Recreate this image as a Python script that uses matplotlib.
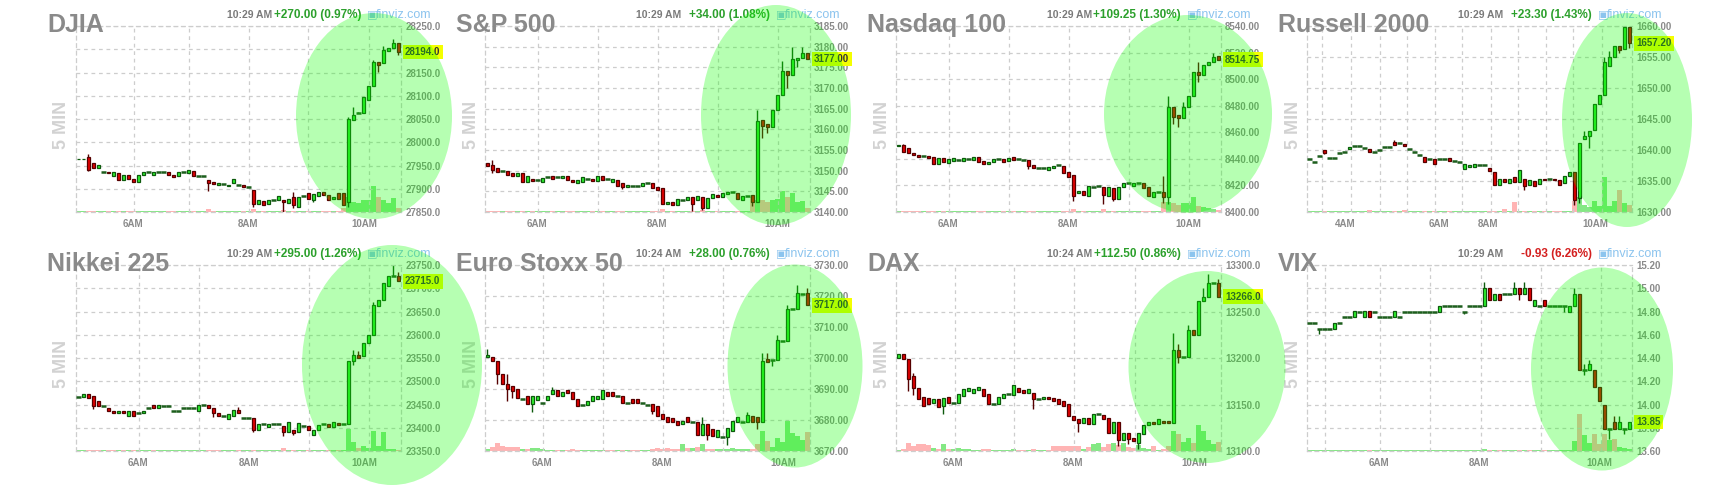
import numpy as np
import matplotlib
matplotlib.use("Agg")
import matplotlib.pyplot as plt
import matplotlib.transforms as mtransforms
from matplotlib.patches import Ellipse

plt.rcParams["font.family"] = ["Liberation Sans", "DejaVu Sans"]

W, H = 1720, 486

# ---------------- data ----------------
names = ["DJIA", "S&P 500", "Nasdaq 100", "Russell 2000",
         "Nikkei 225", "Euro Stoxx 50", "DAX", "VIX"]
times = ["10:29 AM", "10:29 AM", "10:29 AM", "10:29 AM",
         "10:29 AM", "10:24 AM", "10:24 AM", "10:29 AM"]
changes = ["+270.00 (0.97%)", "+34.00 (1.08%)", "+109.25 (1.30%)", "+23.30 (1.43%)",
           "+295.00 (1.26%)", "+28.00 (0.76%)", "+112.50 (0.86%)", "-0.93 (6.26%)"]
last_labels = ["28194.0", "3177.00", "8514.75", "1657.20",
               "23715.0", "3717.00", "13266.0", "13.85"]

djia_open = [27963, 27964, 27969, 27955, 27944, 27937, 27937, 27928, 27933, 27919,
             27930, 27922, 27915, 27930, 27937, 27930, 27937, 27937, 27935, 27930,
             27927, 27936, 27933, 27939, 27928, 27928, 27919, 27914, 27908, 27910,
             27905, 27913, 27908, 27908, 27904, 27897, 27867, 27874, 27867, 27876,
             27876, 27876, 27869, 27883, 27861, 27884, 27890, 27876, 27884, 27894,
             27887, 27878, 27890, 27890, 27872, 28048, 28062, 28062, 28091, 28120,
             28173, 28170, 28197, 28202, 28213]
djia_close = [27964, 27965, 27940, 27945, 27951, 27937, 27933, 27936, 27919, 27930,
              27922, 27915, 27930, 27937, 27937, 27937, 27937, 27937, 27930, 27926,
              27937, 27936, 27940, 27927, 27928, 27928, 27912, 27910, 27912, 27910,
              27908, 27921, 27908, 27904, 27904, 27867, 27876, 27866, 27876, 27876,
              27885, 27872, 27879, 27865, 27883, 27884, 27879, 27888, 27892, 27887,
              27876, 27883, 27879, 27865, 28051, 28059, 28062, 28098, 28120, 28173,
              28166, 28198, 28202, 28213, 28194]
djia_hi = {2: 27975, 43: 27894, 54: 28055, 55: 28076, 56: 28066, 59: 28177, 61: 28206, 63: 28223}
djia_lo = {2: 27939, 26: 27896, 35: 27860, 41: 27851, 43: 27858, 47: 27872, 54: 27861, 60: 28152, 64: 28188}
djia_vol = [0.6, 0.6, 0.6, 0.6, 0.6, 0.6, 0.6, 0.6, 0.6, 0.6,
            0.6, 0.6, 0.6, 0.6, 0.6, 0.6, 0.6, 0.6, 0.6, 0.6,
            0.6, 0.6, 0.6, 0.6, 0.6, 0.6, 1.5, 0.6, 0.6, 0.6,
            0.6, 0.6, 0.6, 0.6, 0.6, 1.5, 0.6, 0.6, 0.6, 0.6,
            0.6, 1.2, 0.6, 0.6, 0.6, 0.6, 0.6, 0.6, 0.6, 0.6,
            0.6, 0.6, 0.6, 2.0, 8.0, 5.5, 4.7, 6.5, 6.5, 14.0,
            8.0, 6.5, 4.7, 7.3, 2.0]
djia_ticks = [27850, 27900, 27950, 28000, 28050, 28100, 28150, 28200, 28250]

spx_open = [3151.8, 3151.4, 3150.6, 3149.8, 3149.8, 3149.5, 3148.7, 3149.4, 3147.3, 3148.1,
            3147.7, 3147.3, 3148.5, 3148.7, 3148.5, 3148.3, 3148.7, 3147.7, 3146.9, 3147.3,
            3148.1, 3148.1, 3147.6, 3148.7, 3148.0, 3147.3, 3147.7, 3146.9, 3146.1, 3146.4,
            3146.3, 3146.3, 3147.1, 3147.1, 3146.0, 3145.7, 3141.9, 3142.5, 3141.7, 3142.9,
            3142.9, 3143.7, 3142.9, 3143.7, 3140.9, 3143.3, 3144.1, 3143.7, 3144.4, 3144.9,
            3144.7, 3142.9, 3143.9, 3144.1, 3142.5, 3162.3, 3161.3, 3160.6, 3164.7, 3168.3,
            3174.0, 3173.1, 3176.8, 3177.2, 3178.4]
spx_close = [3151.1, 3150.2, 3149.6, 3149.8, 3149.0, 3148.7, 3149.5, 3147.3, 3148.7, 3147.6,
             3147.7, 3148.3, 3148.5, 3148.1, 3148.5, 3148.8, 3147.7, 3147.2, 3147.7, 3148.4,
             3148.1, 3147.6, 3148.7, 3147.7, 3148.0, 3148.1, 3146.3, 3146.1, 3146.5, 3146.4,
             3146.3, 3147.1, 3147.1, 3145.7, 3145.3, 3141.9, 3142.5, 3141.7, 3143.1, 3142.9,
             3143.7, 3141.9, 3143.9, 3140.9, 3143.3, 3144.3, 3143.7, 3144.5, 3144.9, 3144.9,
             3143.1, 3143.9, 3143.9, 3142.5, 3161.9, 3160.8, 3160.6, 3164.7, 3168.3, 3174.0,
             3173.1, 3176.9, 3177.2, 3178.4, 3177.0]
spx_hi = {1: 3152.6, 54: 3164.7, 59: 3176.5, 61: 3180.0, 63: 3180.0}
spx_lo = {1: 3149.4, 27: 3145.5, 41: 3140.2, 43: 3140.5, 53: 3141.5, 55: 3158.0, 56: 3159.0, 60: 3170.0, 62: 3175.0}
spx_vol = [0.6, 0.6, 0.6, 0.6, 0.6, 0.6, 0.6, 0.6, 0.6, 0.6,
           0.6, 0.6, 0.6, 0.6, 0.6, 0.6, 0.6, 0.6, 0.6, 0.6,
           0.6, 0.6, 0.6, 0.6, 0.6, 0.6, 0.6, 0.6, 0.6, 0.6,
           0.6, 0.6, 0.6, 0.6, 0.6, 1.5, 0.6, 0.6, 0.6, 0.6,
           0.6, 0.6, 0.6, 1.2, 0.6, 0.6, 0.6, 0.6, 0.6, 0.6,
           0.6, 0.6, 0.6, 8.0, 6.5, 6.5, 5.5, 6.5, 7.0, 11.3,
           8.2, 10.4, 5.5, 6.0, 2.0]
spx_ticks = [3140, 3145, 3150, 3155, 3160, 3165, 3170, 3175, 3180, 3185]

ndx_open = [8449.9, 8450.4, 8447.9, 8444.7, 8442.9, 8442.2, 8442.2, 8441.7, 8436.1, 8440.4,
            8437.1, 8438.4, 8439.1, 8438.4, 8439.6, 8439.1, 8441.2, 8438.4, 8436.1, 8437.9,
            8439.6, 8439.6, 8438.4, 8441.7, 8439.6, 8439.1, 8439.1, 8435.4, 8433.4, 8433.4,
            8431.6, 8432.9, 8435.4, 8434.6, 8430.4, 8427.9, 8414.1, 8415.8, 8412.0, 8419.1,
            8419.6, 8419.1, 8412.0, 8417.8, 8409.5, 8419.1, 8421.6, 8419.6, 8421.6, 8421.6,
            8418.6, 8411.5, 8415.3, 8415.3, 8411.0, 8479.3, 8473.0, 8470.5, 8479.3, 8487.3,
            8505.6, 8503.1, 8510.6, 8513.2, 8517.4]
ndx_close = [8450.4, 8445.4, 8444.7, 8442.9, 8441.7, 8442.2, 8440.4, 8436.1, 8440.4, 8437.9,
             8439.6, 8440.9, 8439.1, 8440.4, 8439.6, 8441.2, 8437.4, 8436.1, 8437.9, 8439.6,
             8439.6, 8437.4, 8440.9, 8439.1, 8439.6, 8439.1, 8434.6, 8432.9, 8433.4, 8433.4,
             8434.1, 8434.6, 8435.4, 8429.6, 8426.6, 8412.0, 8416.1, 8412.8, 8419.6, 8419.1,
             8419.6, 8412.8, 8418.6, 8409.5, 8419.1, 8422.1, 8421.6, 8421.6, 8421.6, 8417.8,
             8412.0, 8415.3, 8415.3, 8411.0, 8479.3, 8471.3, 8470.5, 8479.3, 8487.3, 8505.6,
             8503.1, 8510.6, 8513.2, 8516.9, 8514.75]
ndx_hi = {1: 8451.5, 53: 8427.0, 54: 8487.0, 57: 8483.0, 60: 8513.0, 63: 8520.0}
ndx_lo = {26: 8432.0, 35: 8408.0, 41: 8406.0, 43: 8408.0, 53: 8407.0, 54: 8406.0, 55: 8466.0, 56: 8464.0, 60: 8498.0}
ndx_vol = [0.5, 0.5, 0.5, 0.5, 0.5, 0.5, 0.5, 0.5, 0.5, 0.5,
           0.5, 0.5, 0.5, 0.5, 0.5, 0.5, 0.5, 0.5, 0.5, 0.5,
           0.5, 0.5, 0.5, 0.5, 0.5, 0.5, 0.5, 0.5, 0.5, 0.5,
           0.5, 0.5, 0.5, 0.5, 0.5, 1.5, 0.5, 0.5, 0.5, 0.5,
           0.5, 1.5, 0.5, 0.5, 0.5, 0.5, 0.5, 0.5, 0.5, 0.5,
           0.5, 0.5, 0.5, 5.5, 5.5, 4.7, 3.8, 5.0, 4.7, 8.2,
           3.2, 2.5, 2.0, 1.5, 1.0]
ndx_ticks = [8400, 8420, 8440, 8460, 8480, 8500, 8520, 8540]

rut_open = [1638.5, 1638.0, 1639.1, 1640.0, 1638.7, 1638.7, 1639.5, 1639.7, 1640.1, 1640.6,
            1640.6, 1640.4, 1640.2, 1639.7, 1640.0, 1640.5, 1640.5, 1641.3, 1641.2, 1640.9,
            1640.2, 1639.7, 1639.2, 1638.9, 1638.5, 1638.6, 1638.5, 1638.5, 1638.7, 1638.2,
            1638.0, 1637.0, 1637.2, 1637.2, 1637.6, 1637.6, 1637.1, 1636.5, 1634.4, 1635.3,
            1634.6, 1635.6, 1634.9, 1635.3, 1634.4, 1635.0, 1634.5, 1635.4, 1635.3, 1635.4,
            1635.1, 1634.6, 1635.8, 1636.4, 1632.3, 1641.7, 1642.2, 1643.2, 1647.4, 1648.8,
            1653.6, 1655.0, 1656.7, 1656.3, 1659.8]
rut_close = [1638.5, 1638.0, 1639.1, 1639.5, 1638.7, 1638.7, 1639.5, 1639.7, 1640.5, 1640.6,
             1640.6, 1640.4, 1639.7, 1639.7, 1640.0, 1640.5, 1640.5, 1640.8, 1641.2, 1640.6,
             1640.2, 1639.7, 1639.2, 1638.0, 1638.5, 1637.8, 1638.5, 1638.5, 1638.3, 1638.2,
             1638.0, 1637.7, 1637.5, 1637.7, 1637.6, 1637.6, 1636.6, 1634.4, 1635.3, 1634.8,
             1635.3, 1634.9, 1636.8, 1634.2, 1635.2, 1634.2, 1635.4, 1635.1, 1635.3, 1635.2,
             1634.4, 1635.8, 1636.4, 1632.0, 1641.2, 1642.3, 1643.1, 1647.5, 1648.9, 1654.2,
             1655.0, 1656.7, 1656.2, 1659.8, 1657.2]
rut_hi = {17: 1641.6, 55: 1643.0, 59: 1655.0, 60: 1656.0}
rut_lo = {3: 1639.3, 43: 1633.5, 53: 1631.2, 54: 1631.4, 56: 1640.3, 62: 1655.7, 64: 1656.5}
rut_vol = [0.3, 0.3, 0.3, 0.3, 0.3, 0.3, 0.3, 0.3, 0.3, 0.3,
           0.3, 0.3, 1.0, 0.3, 0.3, 0.3, 0.3, 0.3, 0.3, 1.0,
           0.3, 0.3, 0.3, 0.3, 0.3, 0.3, 0.3, 0.3, 0.3, 0.3,
           0.3, 0.3, 0.3, 0.3, 0.3, 0.3, 0.3, 0.3, 0.3, 1.5,
           0.3, 5.4, 0.3, 0.3, 0.3, 0.3, 0.3, 0.3, 0.3, 0.3,
           0.3, 0.3, 0.3, 6.0, 8.0, 4.0, 2.5, 6.0, 3.0, 19.0,
           3.0, 6.0, 12.0, 5.0, 4.0]
rut_ticks = [1630, 1635, 1640, 1645, 1650, 1655, 1660]

nik_open = [23467, 23467, 23472, 23468, 23457, 23447, 23443, 23436, 23431, 23436,
            23425, 23437, 23431, 23431, 23443, 23448, 23442, 23447, 23447, 23436,
            23436, 23443, 23443, 23443, 23436, 23448, 23448, 23443, 23431, 23425,
            23419, 23425, 23439, 23421, 23421, 23421, 23396, 23407, 23401, 23407,
            23407, 23404, 23391, 23396, 23391, 23404, 23404, 23384, 23396, 23407,
            23407, 23401, 23411, 23407, 23407, 23543, 23557, 23554, 23583, 23600,
            23661, 23674, 23704, 23726, 23726]
nik_close = [23467, 23472, 23464, 23447, 23447, 23447, 23436, 23431, 23436, 23431,
             23436, 23425, 23431, 23437, 23443, 23442, 23448, 23447, 23447, 23436,
             23436, 23443, 23443, 23443, 23448, 23448, 23442, 23431, 23425, 23425,
             23429, 23439, 23431, 23421, 23421, 23396, 23407, 23407, 23407, 23407,
             23407, 23391, 23412, 23389, 23411, 23404, 23396, 23396, 23405, 23407,
             23401, 23412, 23405, 23407, 23543, 23557, 23550, 23583, 23600, 23665,
             23674, 23711, 23726, 23726, 23715]
nik_hi = {32: 23445, 55: 23568, 56: 23565, 59: 23670, 63: 23750, 64: 23735}
nik_lo = {3: 23440, 27: 23424, 35: 23390, 41: 23382, 43: 23385, 55: 23535}
nik_vol = [0.3, 0.3, 0.3, 0.3, 0.3, 0.3, 0.3, 0.3, 0.3, 0.3,
           0.3, 0.3, 0.3, 0.3, 0.3, 0.3, 0.3, 0.3, 0.3, 0.3,
           0.3, 0.3, 0.3, 0.3, 0.3, 0.3, 0.3, 0.3, 0.3, 0.3,
           0.3, 0.3, 0.3, 0.3, 0.3, 0.3, 0.3, 0.3, 0.3, 0.3,
           0.3, 1.8, 0.3, 0.3, 0.3, 0.3, 0.3, 0.3, 0.3, 0.3,
           0.3, 0.3, 0.3, 0.3, 12.0, 5.0, 1.5, 2.7, 1.5, 10.7,
           2.7, 10.0, 1.0, 1.3, 0.5]
nik_ticks = [23350, 23400, 23450, 23500, 23550, 23600, 23650, 23700, 23750]

sx5e_open = [3700.3, 3700.2, 3699.1, 3694.8, 3691.5, 3691.0, 3689.9, 3686.9, 3687.8, 3685.1,
             3686.5, 3685.6, 3686.5, 3688.3, 3689.7, 3687.6, 3689.7, 3688.9, 3686.9, 3684.8,
             3684.8, 3686.2, 3686.7, 3686.7, 3688.9, 3688.9, 3687.8, 3687.6, 3685.6, 3686.9,
             3686.7, 3685.4, 3684.8, 3685.1, 3684.5, 3681.8, 3681.1, 3680.8, 3679.7, 3678.6,
             3681.1, 3679.2, 3679.2, 3675.1, 3678.6, 3677.0, 3674.6, 3674.6, 3674.6, 3676.5,
             3679.4, 3679.4, 3679.4, 3681.3, 3681.1, 3679.2, 3699.8, 3699.4, 3699.4, 3705.5,
             3705.5, 3715.8, 3715.8, 3720.6, 3721.0]
sx5e_close = [3700.9, 3698.9, 3694.8, 3691.5, 3689.9, 3689.4, 3687.2, 3686.9, 3685.1, 3687.8,
              3687.8, 3685.6, 3687.6, 3689.7, 3687.6, 3688.9, 3688.6, 3686.7, 3684.5, 3684.8,
              3686.2, 3687.6, 3687.6, 3689.7, 3687.6, 3687.6, 3687.8, 3685.4, 3685.6, 3685.4,
              3685.4, 3685.4, 3684.8, 3682.9, 3681.3, 3680.4, 3679.2, 3679.2, 3678.3, 3679.7,
              3679.2, 3679.2, 3675.1, 3678.6, 3675.1, 3674.8, 3676.8, 3674.6, 3677.5, 3679.7,
              3681.1, 3679.4, 3681.5, 3679.4, 3679.2, 3699.1, 3698.8, 3699.4, 3705.9, 3705.5,
              3715.8, 3715.8, 3721.0, 3720.6, 3717.0]
sx5e_hi = {0: 3703.0, 4: 3695.0, 13: 3690.5, 43: 3681.0, 52: 3682.5, 55: 3701.5, 56: 3701.5,
           58: 3707.5, 60: 3717.0, 62: 3723.5, 64: 3722.5}
sx5e_lo = {2: 3691.5, 4: 3686.0, 5: 3687.0, 9: 3682.7, 33: 3682.0, 44: 3673.5, 48: 3672.0, 54: 3677.0, 57: 3697.5}
sx5e_vol = [1.0, 2.0, 4.5, 2.7, 2.3, 2.3, 2.3, 1.3, 1.3, 1.8,
            1.8, 1.0, 0.8, 0.8, 0.8, 0.5, 0.8, 1.0, 0.8, 0.5,
            0.5, 0.5, 0.5, 0.8, 0.5, 0.5, 0.5, 0.8, 0.5, 0.8,
            0.5, 0.8, 0.5, 1.0, 1.8, 1.3, 1.8, 1.3, 1.0, 3.6,
            1.8, 1.4, 2.3, 3.6, 1.0, 1.0, 1.3, 1.0, 1.3, 1.8,
            1.0, 1.0, 1.0, 1.0, 3.6, 10.8, 5.4, 2.3, 7.2, 4.8,
            16.0, 9.5, 8.0, 6.0, 10.0]
sx5e_ticks = [3670, 3680, 3690, 3700, 3710, 3720, 3730]

dax_open = [13200.2, 13203.8, 13198.4, 13180.5, 13168.0, 13158.3, 13157.2, 13151.2, 13155.5, 13148.3,
            13158.3, 13151.2, 13151.9, 13159.0, 13164.4, 13161.9, 13165.5, 13166.9, 13160.8, 13150.8,
            13150.1, 13157.2, 13160.8, 13159.7, 13168.0, 13165.5, 13161.9, 13162.6, 13156.2, 13155.5,
            13158.3, 13157.2, 13155.5, 13153.7, 13150.1, 13137.6, 13134.7, 13130.4, 13135.8, 13128.6,
            13139.4, 13138.3, 13135.8, 13119.7, 13131.1, 13111.8, 13119.0, 13114.3, 13108.9, 13117.9,
            13127.5, 13131.1, 13128.6, 13132.2, 13132.2, 13130.4, 13208.4, 13201.3, 13201.3, 13229.9,
            13225.2, 13261.0, 13265.7, 13280.7, 13280.7]
dax_close = [13203.8, 13198.4, 13176.9, 13168.0, 13156.2, 13148.3, 13150.1, 13156.2, 13147.6, 13157.2,
             13151.2, 13151.2, 13160.8, 13166.2, 13168.0, 13166.2, 13169.0, 13159.0, 13150.1, 13150.8,
             13158.3, 13160.8, 13160.8, 13170.5, 13163.3, 13162.6, 13166.2, 13155.5, 13156.2, 13158.3,
             13155.5, 13153.7, 13150.1, 13148.3, 13137.6, 13133.3, 13130.4, 13135.8, 13128.6, 13139.4,
             13139.4, 13134.7, 13119.7, 13131.1, 13111.8, 13119.7, 13112.5, 13110.7, 13119.7, 13127.5,
             13131.1, 13128.6, 13134.7, 13129.7, 13129.7, 13209.1, 13201.3, 13201.3, 13229.9, 13225.2,
             13261.0, 13265.7, 13280.7, 13280.7, 13266.0]
dax_hi = {3: 13183.5, 55: 13227.0, 56: 13215.0, 58: 13235.0, 61: 13275.0, 62: 13290.0, 64: 13285.0}
dax_lo = {2: 13165.0, 3: 13160.0, 9: 13140.0, 27: 13145.0, 36: 13120.0, 44: 13105.0, 46: 13108.0,
          48: 13102.0, 56: 13195.0}
dax_vol = [0.5, 1.0, 4.5, 2.7, 3.6, 3.6, 3.0, 1.8, 1.3, 3.6,
           1.0, 1.0, 1.8, 1.3, 1.0, 0.8, 0.8, 1.0, 1.0, 0.8,
           0.5, 0.5, 0.5, 1.0, 0.5, 0.5, 0.5, 1.0, 0.5, 0.5,
           0.8, 2.7, 2.7, 2.7, 2.7, 2.7, 2.7, 1.0, 2.3, 4.0,
           4.5, 2.3, 3.6, 4.5, 3.0, 4.5, 2.3, 1.8, 3.0, 1.8,
           1.3, 2.7, 0.8, 1.3, 2.7, 10.7, 9.0, 4.8, 7.2, 4.5,
           13.8, 10.7, 5.9, 3.6, 4.8]
dax_ticks = [13100, 13150, 13200, 13250, 13300]

vix_open = [14.70, 14.70, 14.65, 14.65, 14.65, 14.65, 14.70, 14.75, 14.75, 14.75,
            14.80, 14.75, 14.80, 14.80, 14.75, 14.75, 14.75, 14.75, 14.75, 14.80,
            14.80, 14.80, 14.80, 14.80, 14.80, 14.80, 14.80, 14.85, 14.85, 14.85,
            14.85, 14.80, 14.85, 14.85, 14.85, 14.85, 15.00, 14.90, 14.95, 14.95,
            14.95, 14.95, 15.00, 14.95, 15.00, 14.85, 14.85, 14.90, 14.85, 14.85,
            14.85, 14.85, 14.80, 14.85, 14.95, 14.30, 14.30, 14.30, 14.15, 14.00,
            13.79, 13.85, 13.79, 13.79, 13.79]
vix_close = [14.70, 14.70, 14.65, 14.65, 14.65, 14.70, 14.70, 14.75, 14.75, 14.80,
             14.80, 14.80, 14.75, 14.80, 14.75, 14.75, 14.75, 14.80, 14.75, 14.80,
             14.80, 14.80, 14.80, 14.80, 14.80, 14.80, 14.85, 14.85, 14.85, 14.85,
             14.85, 14.80, 14.85, 14.85, 14.85, 15.00, 14.90, 14.95, 14.90, 14.95,
             14.95, 15.00, 14.95, 15.00, 14.90, 14.90, 14.85, 14.85, 14.85, 14.85,
             14.85, 14.85, 14.85, 14.95, 14.30, 14.30, 14.35, 14.15, 14.03, 13.79,
             13.79, 13.79, 13.85, 13.79, 13.85]
vix_hi = {35: 15.05, 41: 15.05, 43: 15.05, 53: 15.00, 55: 14.35, 56: 14.38, 61: 13.90, 62: 13.90}
vix_lo = {2: 14.61, 31: 14.78, 42: 14.90, 51: 14.80, 55: 14.25, 60: 13.70, 63: 13.75}
vix_vol = [0.3, 0.3, 0.3, 0.3, 0.3, 0.3, 0.3, 0.3, 0.3, 0.3,
           0.3, 0.3, 0.3, 0.3, 0.3, 0.3, 0.3, 0.3, 0.3, 0.3,
           0.3, 0.3, 0.3, 0.3, 0.3, 0.3, 0.3, 0.3, 0.3, 0.3,
           0.3, 0.3, 0.3, 0.3, 0.3, 1.0, 0.3, 0.3, 0.3, 0.3,
           0.3, 0.5, 0.5, 0.5, 0.5, 0.3, 0.3, 0.3, 0.3, 0.3,
           0.3, 0.3, 0.3, 5.4, 19.8, 8.5, 4.5, 9.0, 3.6, 9.0,
           5.8, 6.3, 2.3, 1.8, 1.0]
vix_ticks = [13.6, 13.8, 14.0, 14.2, 14.4, 14.6, 14.8, 15.0, 15.2]

opens = [djia_open, spx_open, ndx_open, rut_open, nik_open, sx5e_open, dax_open, vix_open]
closes = [djia_close, spx_close, ndx_close, rut_close, nik_close, sx5e_close, dax_close, vix_close]
highs = [djia_hi, spx_hi, ndx_hi, rut_hi, nik_hi, sx5e_hi, dax_hi, vix_hi]
lows = [djia_lo, spx_lo, ndx_lo, rut_lo, nik_lo, sx5e_lo, dax_lo, vix_lo]
vols = [djia_vol, spx_vol, ndx_vol, rut_vol, nik_vol, sx5e_vol, dax_vol, vix_vol]
yticks = [djia_ticks, spx_ticks, ndx_ticks, rut_ticks, nik_ticks, sx5e_ticks, dax_ticks, vix_ticks]
yfmt = ["{:.1f}", "{:.2f}", "{:.2f}", "{:.2f}", "{:.1f}", "{:.2f}", "{:.1f}", "{:.2f}"]

hour_labels = [["6AM", "8AM", "10AM"], ["6AM", "8AM", "10AM"], ["6AM", "8AM", "10AM"],
               ["4AM", "6AM", "8AM", "10AM"], ["6AM", "8AM", "10AM"], ["6AM", "8AM", "10AM"],
               ["6AM", "8AM", "10AM"], ["6AM", "8AM", "10AM"]]
hour_label_pos = [[11.0, 33.9, 57.2], [10.0, 34.0, 58.1], [10.0, 34.0, 58.1],
                  [7.2, 26.0, 35.8, 57.2], [12.0, 34.2, 57.2], [10.9, 35.0, 59.2],
                  [10.9, 35.0, 59.2], [13.9, 33.9, 58.1]]
hour_grid_pos = [[11.2, 22.2, 34.2, 45.9, 58.2], [10.2, 22.2, 34.2, 46.2, 58.2],
                 [10.2, 22.2, 34.2, 46.2, 58.2],
                 [2.5, 8.4, 14.2, 19.6, 25.2, 30.6, 36.4, 41.8, 47.4, 52.8, 58.6],
                 [12.2, 24.2, 34.2, 46.2, 58.2], [11.2, 23.2, 35.2, 47.2, 59.2],
                 [11.3, 23.1, 35.1, 47.3, 59.2], [3.1, 14.1, 24.1, 34.3, 46.3, 58.3]]

# highlight ellipses (pixel centre x, y, width, height)
ellipses = [(374, 116, 156, 206), (776, 115, 150, 220), (1188, 114, 168, 198), (1627, 120, 130, 214),
            (392, 365, 180, 240), (795, 366, 135, 203), (1207, 367, 157, 192), (1602, 369, 142, 203)]

# ---------------- layout / style ----------------
col_left = [76, 485, 896, 1307]
row_top = [26, 265]
PW, PH = 325, 186

GREEN, GEDGE = "#2ef52e", "#0d5a0d"
RED, REDGE = "#e40000", "#560000"
DOJI = "#1d5e1d"
GRID = "#cdcdcd"
TXT = "#8a8a8a"

fig = plt.figure(figsize=(W / 100, H / 100), dpi=100)

for k in range(8):
    r, col = divmod(k, 4)
    left, top = col_left[col], row_top[r]
    rect = [left / W, 1 - (top + PH) / H, PW / W, PH / H]

    o = np.array(opens[k], dtype=float)
    c = np.array(closes[k], dtype=float)
    x = np.arange(len(c))
    hi = np.maximum(o, c)
    lo = np.minimum(o, c)
    for i, v in highs[k].items():
        hi[i] = v
    for i, v in lows[k].items():
        lo[i] = v
    up = c > o
    dn = c < o
    flat = c == o

    # volume underneath
    axv = fig.add_axes(rect)
    vcol = ["#84e884" if cc >= oo else "#ffb4b4" for oo, cc in zip(o, c)]
    axv.bar(x, vols[k], width=0.92, color=vcol, linewidth=0)
    axv.set_ylim(0, 100)
    axv.set_xlim(-0.45, 64.55)
    axv.axis("off")

    ax = fig.add_axes(rect)
    ax.patch.set_visible(False)
    ax.set_xlim(-0.45, 64.55)
    ax.set_ylim(yticks[k][0], yticks[k][-1])

    wick_col = [GEDGE if cc >= oo else REDGE for oo, cc in zip(o, c)]
    ax.vlines(x, lo, hi, colors=wick_col, linewidth=1.0, zorder=2)
    ax.bar(x[up], (c - o)[up], bottom=o[up], width=0.64, color=GREEN,
           edgecolor=GEDGE, linewidth=0.9, zorder=3)
    ax.bar(x[dn], (o - c)[dn], bottom=c[dn], width=0.64, color=RED,
           edgecolor=REDGE, linewidth=0.9, zorder=3)
    ax.hlines(c[flat], x[flat] - 0.5, x[flat] + 0.5, color=DOJI, linewidth=1.8, zorder=3)

    # grid + ticks
    ax.yaxis.tick_right()
    ax.set_yticks(yticks[k])
    ax.set_yticklabels([yfmt[k].format(v) for v in yticks[k]])
    ax.set_xticks(hour_label_pos[k])
    ax.set_xticklabels(hour_labels[k])
    ax.set_xticks(hour_grid_pos[k], minor=True)
    ax.tick_params(axis="both", which="both", length=0, labelsize=7, labelcolor=TXT)
    ax.tick_params(axis="x", pad=5)
    ax.tick_params(axis="y", pad=3)
    for lbl in ax.get_xticklabels() + ax.get_yticklabels():
        lbl.set_fontweight("bold")
    ax.grid(axis="x", which="minor", color=GRID, linestyle=(0, (3, 3)), linewidth=0.9)
    ax.grid(axis="y", which="major", color=GRID, linestyle=(0, (3, 3)), linewidth=0.9)
    for s in ax.spines.values():
        s.set_color(GRID)
        s.set_linestyle((0, (3, 3)))
        s.set_linewidth(0.9)

    # current price tag
    trans = mtransforms.blended_transform_factory(ax.transAxes, ax.transData)
    ax.text(1 + 4 / PW, c[-1], last_labels[k], transform=trans, ha="left", va="center",
            fontsize=7, fontweight="bold", color="#333333", clip_on=False, zorder=5,
            bbox=dict(boxstyle="square,pad=0.25", fc="#f4ff00", ec="none"))

    # titles and header
    right = left + PW
    fig.text((left - 29) / W, 1 - (top + 6) / H, names[k], fontsize=18, fontweight="bold",
             color="#8a8a8a", ha="left", va="baseline")
    hy = 1 - (top - 11) / H
    fig.text((right - 174) / W, hy, times[k], fontsize=7.5, fontweight="bold",
             color="#7a7a7a", ha="left", va="center")
    chg_col = "#d42020" if changes[k].startswith("-") else "#2ca02c"
    fig.text((right - 40) / W, hy, changes[k], fontsize=8.5, fontweight="bold",
             color=chg_col, ha="right", va="center")
    fig.text((right - 34) / W, hy, "\u25a3", fontsize=8, color="#8cc4ee",
             ha="left", va="center", family=["DejaVu Sans"])
    fig.text((right - 25) / W, hy, "finviz.com", fontsize=9, color="#8cc4ee",
             ha="left", va="center")
    fig.text((left - 14) / W, 1 - (top + 99) / H, "5 MIN", fontsize=13, fontweight="bold",
             color="#d2d2d2", rotation=90, ha="center", va="center")

for cx, cy, w, h in ellipses:
    fig.add_artist(Ellipse((cx / W, 1 - cy / H), w / W, h / H, transform=fig.transFigure,
                           facecolor=(0.05, 1.0, 0.0), alpha=0.3, edgecolor="none", zorder=10))

fig.savefig("out.png", dpi=100)
